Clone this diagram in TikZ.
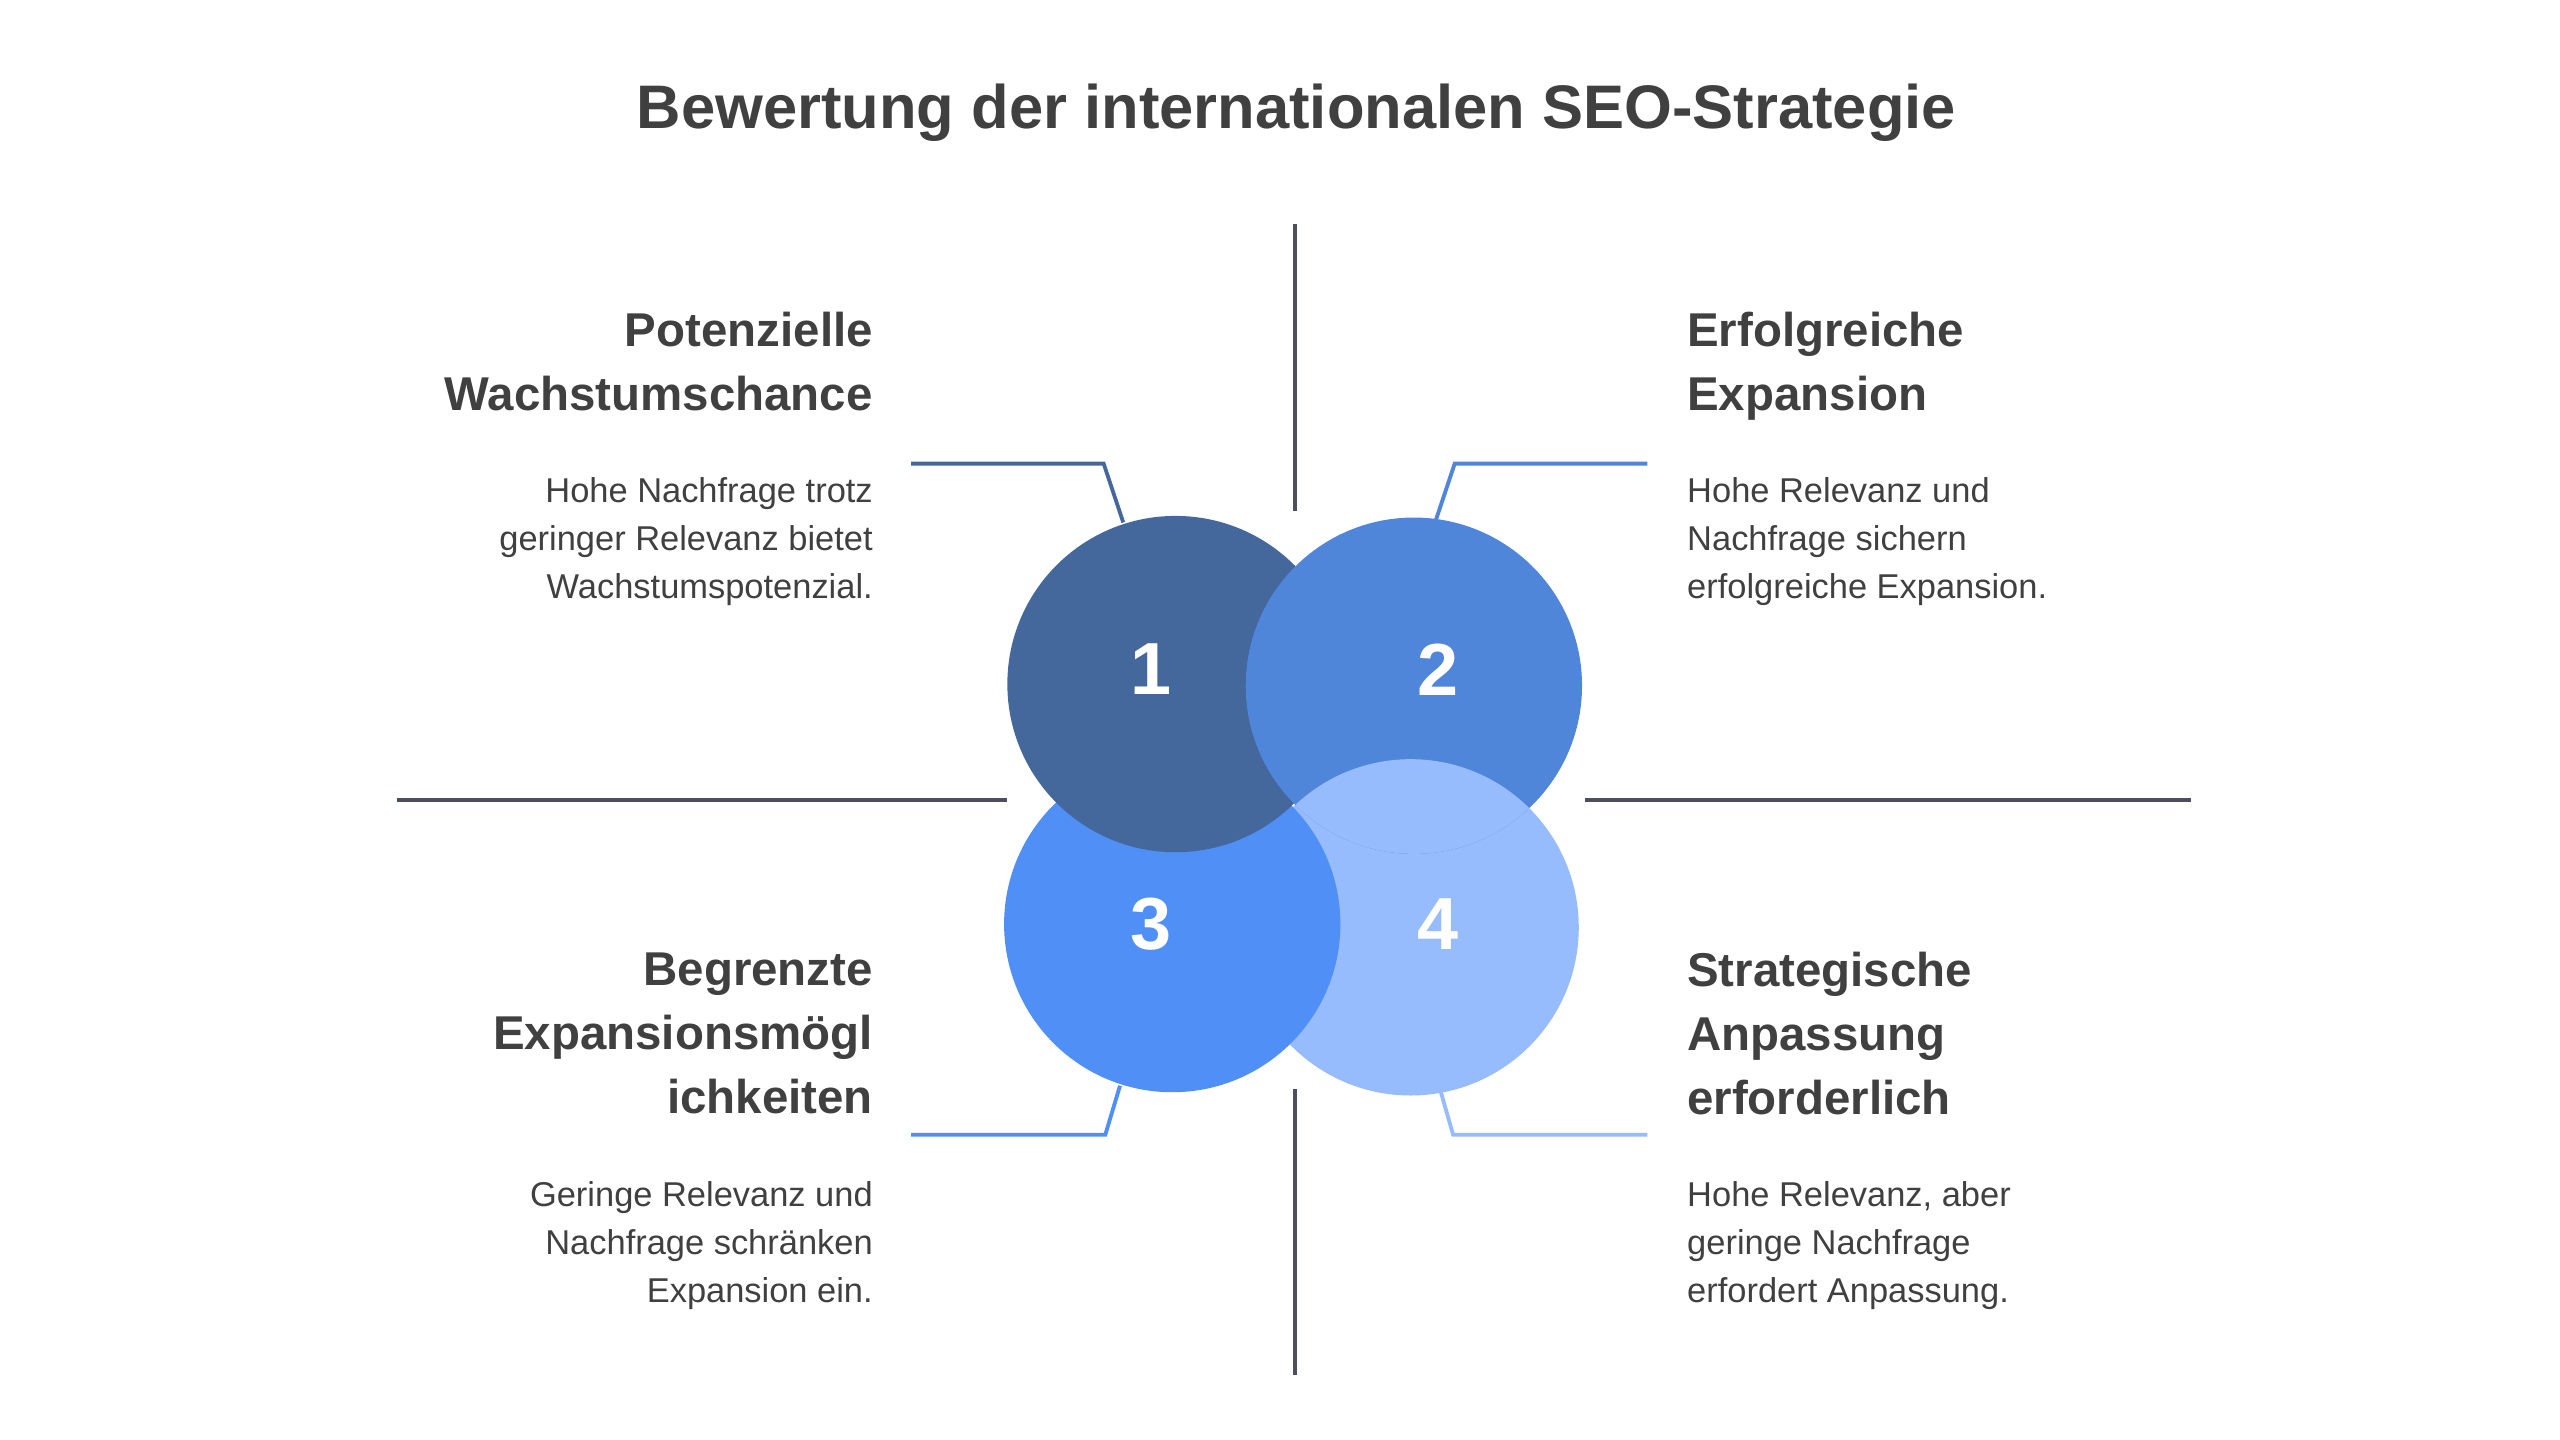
\documentclass[tikz,border=0pt]{standalone}
\usepackage{fontspec}
\setmainfont{Liberation Sans}
\definecolor{cA}{HTML}{44679C}
\definecolor{cB}{HTML}{4F86D9}
\definecolor{cC}{HTML}{5090F6}
\definecolor{cD}{HTML}{96BCFD}
\definecolor{txt}{HTML}{404040}
\definecolor{ax}{HTML}{4A5060}
\begin{document}
\begin{tikzpicture}[x=0.01633cm,y=-0.01633cm,
  head/.style={inner sep=0pt,font=\fontsize{13.5pt}{18.2pt}\selectfont\bfseries,text=txt},
  body/.style={inner sep=0pt,font=\fontsize{9.8pt}{13.7pt}\selectfont,text=txt},
  num/.style={font=\fontsize{21pt}{24pt}\selectfont\bfseries,text=white},
  axis/.style={ax,line width=1.2pt},
  conn/.style={line width=1.1pt}]
\useasboundingbox (0,0) rectangle (1568,882);
\node[inner sep=0pt,font=\fontsize{17.5pt}{21pt}\selectfont\bfseries,text=txt] (title) at (794,69) {Bewertung der internationalen SEO-Strategie};
% axes
\coordinate (vt1) at (793,137); \coordinate (vt2) at (793,313);
\coordinate (vb1) at (793,667); \coordinate (vb2) at (793,842);
\coordinate (hl1) at (243,490); \coordinate (hl2) at (617,490);
\coordinate (hr1) at (971,490); \coordinate (hr2) at (1342,490);
\draw[axis] (vt1) -- (vt2); \draw[axis] (vb1) -- (vb2);
\draw[axis] (hl1) -- (hl2); \draw[axis] (hr1) -- (hr2);
% circles
\def\R{103}
\fill[cD] (864,568) circle (\R);
\fill[cC] (718,566) circle (\R);
\fill[cA] (720,419) circle (\R);
\fill[cB] (866,420) circle (\R);
\begin{scope}
\clip (866,420) circle (\R);
\fill[cD] (864,568) circle (\R);
\end{scope}
\node[num] (n1) at (705,410) {1};
\node[num] (n2) at (881,410) {2};
\node[num] (n3) at (705,566) {3};
\node[num] (n4) at (881,566) {4};
% connectors
\coordinate (a1) at (558,284); \coordinate (a2) at (676,284); \coordinate (a3) at (688,320);
\coordinate (b1) at (1009,284); \coordinate (b2) at (891,284); \coordinate (b3) at (879,320);
\coordinate (c1) at (558,695); \coordinate (c2) at (677,695); \coordinate (c3) at (686,665);
\coordinate (d1) at (1009,695); \coordinate (d2) at (890,695); \coordinate (d3) at (882,667);
\draw[conn,cA] (a1) -- (a2) -- (a3);
\draw[conn,cB] (b1) -- (b2) -- (b3);
\draw[conn,cC] (c1) -- (c2) -- (c3);
\draw[conn,cD] (d1) -- (d2) -- (d3);
% texts
\node[head,anchor=north east,align=right] (h1) at (535,191) {Potenzielle\\Wachstumschance};
\node[body,anchor=north east,align=right] (t1) at (535,292) {Hohe Nachfrage trotz\\geringer Relevanz bietet\\Wachstumspotenzial.};
\node[head,anchor=north west,align=left] (h2) at (1033,191) {Erfolgreiche\\Expansion};
\node[body,anchor=north west,align=left] (t2) at (1033,292) {Hohe Relevanz und\\Nachfrage sichern\\erfolgreiche Expansion.};
\node[head,anchor=north east,align=right] (h3) at (535,583) {Begrenzte\\Expansionsmögl\\ichkeiten};
\node[body,anchor=north east,align=right] (t3) at (535,723) {Geringe Relevanz und\\Nachfrage schränken\\Expansion ein.};
\node[head,anchor=north west,align=left] (h4) at (1033,583) {Strategische\\Anpassung\\erforderlich};
\node[body,anchor=north west,align=left] (t4) at (1033,723) {Hohe Relevanz, aber\\geringe Nachfrage\\erfordert Anpassung.};
\end{tikzpicture}
\end{document}
